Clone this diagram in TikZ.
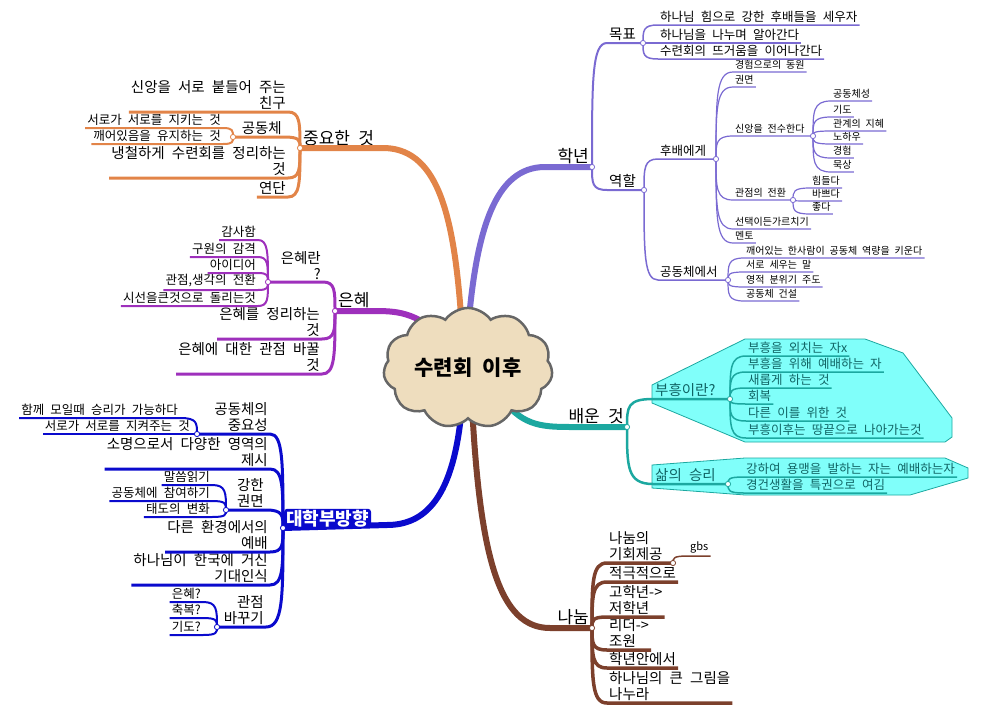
\documentclass[tikz,border=0pt]{standalone}
\usepackage{fontspec}
\setmainfont{Noto Sans CJK KR}[WordSpace=2.2]
\usetikzlibrary{calc,shapes.symbols}

\definecolor{hakc}{RGB}{122,106,210}
\definecolor{orac}{RGB}{226,132,72}
\definecolor{eunc}{RGB}{158,48,188}
\definecolor{daec}{RGB}{10,10,205}
\definecolor{baec}{RGB}{28,168,160}
\definecolor{cyanf}{RGB}{128,255,250}
\definecolor{teald}{RGB}{16,100,100}
\definecolor{brnc}{RGB}{124,64,44}
\definecolor{cloudf}{RGB}{238,221,190}

\tikzset{
  elbow/.style={to path={let \p1=(\tikztostart), \p2=(\tikztotarget) in
    .. controls ($(\p1)!0.7!(\x1,\y2)$) and (\x1,\y2) .. (\p2)}},
  trunk/.style={line width=6pt},
  fA/.style={font=\fontsize{17}{19}\selectfont},
  fB/.style={font=\fontsize{14.5}{16}\selectfont},
  fC/.style={font=\fontsize{12.5}{14}\selectfont},
  fD/.style={font=\fontsize{10}{11}\selectfont},
  lr/.style={anchor=south west, inner xsep=2pt, inner ysep=2.5pt, align=left},
  ll/.style={anchor=south east, inner xsep=2pt, inner ysep=2.5pt, align=right},
  knot/.style={draw, fill=white, line width=0.8pt},
}

\begin{document}
\begin{tikzpicture}[x=1pt,y=-1pt]
\useasboundingbox (0,0) rectangle (999,715);

% boundaries
\filldraw[fill=cyanf,draw=baec,line width=0.8pt] (652,385) -- (745,339) -- (865,339) -- (903,353) -- (952,418) -- (952,437) -- (945,442) -- (745,442) -- (652,403) -- cycle;
\filldraw[fill=cyanf,draw=baec,line width=0.8pt] (652,465) -- (745,458) -- (945,458) -- (968,468) -- (968,478) -- (910,495) -- (745,495) -- (652,488) -- cycle;

\coordinate (hakS) at (468,330);
\coordinate (jungS) at (462,330);
\coordinate (eunS) at (450,345);
\coordinate (daeS) at (462,405);
\coordinate (naS) at (472,405);
\coordinate (baeS) at (500,395);

\coordinate (hakJ) at (592,167);
\coordinate (mokJ) at (643,43);
\coordinate (yeokJ) at (644,190);
\coordinate (hubJ) at (716,159);
\coordinate (sinJ) at (813,136);
\coordinate (gwanJ) at (793,200);
\coordinate (gongJ) at (728,280);
\coordinate (baeJ) at (627,427);
\coordinate (buJ) at (730,399);
\coordinate (salJ) at (728,484);
\coordinate (naJ) at (592,628);
\coordinate (n1J) at (673,563);
\coordinate (jungJ) at (300,148);
\coordinate (kongJ) at (233,137);
\coordinate (eunJ) at (335,311);
\coordinate (eJ) at (268,282);
\coordinate (daeJ) at (283,528);
\coordinate (d1J) at (197,434);
\coordinate (d3J) at (226,510);
\coordinate (d6J) at (217,627);

% 학년
\node[ll,fA] (hak) at (591,167) {학년};
\node[lr,fB] (mok) at (607,43) {목표};
\node[lr,fB] (yeok) at (607,190) {역할};
\node[lr,fC] (m1) at (658,25) {하나님 힘으로 강한 후배들을 세우자};
\node[lr,fC] (m2) at (658,43) {하나님을 나누며 알아간다};
\node[lr,fC] (m3) at (658,59) {수련회의 뜨거움을 이어나간다};
\node[lr,fC] (hub) at (658,159) {후배에게};
\node[lr,fC] (gong) at (658,280) {공동체에서};
\node[lr,fD] (h1) at (733,72) {경험으로의 동원};
\node[lr,fD] (h2) at (733,87) {권면};
\node[lr,fD] (h3) at (733,136) {신앙을 전수한다};
\node[lr,fD] (h4) at (733,200) {관점의 전환};
\node[lr,fD] (h5) at (733,229) {선택이든가르치기};
\node[lr,fD] (h6) at (733,243) {멘토};
\node[lr,fD] (s1) at (831,101) {공동체성};
\node[lr,fD] (s2) at (831,117) {기도};
\node[lr,fD] (s3) at (831,131) {관계의 지혜};
\node[lr,fD] (s4) at (831,144) {노하우};
\node[lr,fD] (s5) at (831,158) {경험};
\node[lr,fD] (s6) at (831,172) {묵상};
\node[lr,fD] (g1) at (810,188) {힘들다};
\node[lr,fD] (g2) at (810,201) {바쁘다};
\node[lr,fD] (g3) at (810,214) {좋다};
\node[lr,fD] (c1) at (744,258) {깨어있는 한사람이 공동체 역량을 키운다};
\node[lr,fD] (c2) at (744,272) {서로 세우는 말};
\node[lr,fD] (c3) at (744,287) {영적 분위기 주도};
\node[lr,fD] (c4) at (744,301) {공동체 건설};

% 배운 것
\node[ll,fA] (bae) at (626,427) {배운 것};
\node[lr,fB,text=teald] (bu) at (653,399) {부흥이란?};
\node[lr,fB,text=teald] (sal) at (653,484) {삶의 승리};
\node[lr,fC,text=teald] (b1) at (746,356) {부흥을 외치는 자x};
\node[lr,fC,text=teald] (b2) at (746,372) {부흥을 위해 예배하는 자};
\node[lr,fC,text=teald] (b3) at (746,388) {새롭게 하는 것};
\node[lr,fC,text=teald] (b4) at (746,404) {회복};
\node[lr,fC,text=teald] (b5) at (746,421) {다른 이를 위한 것};
\node[lr,fC,text=teald] (b6) at (746,438) {부흥이후는 땅끝으로 나아가는것};
\node[lr,fC,text=teald] (v1) at (744,477) {강하여 용맹을 발하는 자는 예배하는자};
\node[lr,fC,text=teald] (v2) at (744,493) {경건생활을 특권으로 여김};

% 나눔
\node[ll,fA] (na) at (591,628) {나눔};
\node[lr,fB] (n1) at (607,563) {나눔의\\기회제공};
\node[lr,font=\fontsize{11}{12}\selectfont] (gbs) at (688,556) {gbs};
\node[lr,fB] (n2) at (607,582) {적극적으로};
\node[lr,fB] (n3) at (607,617) {고학년->\\저학년};
\node[lr,fB] (n4) at (607,650) {리더->\\조원};
\node[lr,fB] (n5) at (607,668) {학년안에서};
\node[lr,fB] (n6) at (607,703) {하나님의 큰 그림을\\나누라};

% 중요한 것
\node[lr,fA] (jung) at (301,148) {중요한 것};
\node[ll,fB] (o1) at (288,112) {신앙을 서로 붙들어 주는\\친구};
\node[ll,fB] (o2) at (284,137) {공동체};
\node[ll,fC] (o21) at (223,128) {서로가 서로를 지키는 것};
\node[ll,fC] (o22) at (223,144) {깨어있음을 유지하는 것};
\node[ll,fB] (o3) at (288,178) {냉철하게 수련회를 정리하는\\것};
\node[ll,fB] (o4) at (288,197) {연단};

% 은혜
\node[lr,fA] (eun) at (336,311) {은혜};
\node[ll,fB] (e1) at (323,282) {은혜란\\?};
\node[ll,fC] (e11) at (258,240) {감사함};
\node[ll,fC] (e12) at (258,257) {구원의 감격};
\node[ll,fC] (e13) at (258,273) {아이디어};
\node[ll,fC] (e14) at (258,290) {관점,생각의 전환};
\node[ll,fC] (e15) at (258,306) {시선을큰것으로 돌리는것};
\node[ll,fB] (e2) at (322,339) {은혜를 정리하는\\것};
\node[ll,fB] (e3) at (322,374) {은혜에 대한 관점 바꿀\\것};

% 대학부방향
\node[ll,fB] (d1) at (270,434) {공동체의\\중요성};
\node[ll,fC] (d11) at (180,418) {함께 모일때 승리가 가능하다};
\node[ll,fC] (d12) at (192,434) {서로가 서로를 지켜주는 것};
\node[ll,fB] (d2) at (270,469) {소명으로서 다양한 영역의\\제시};
\node[ll,fB] (d3) at (266,510) {강한\\권면};
\node[ll,fC] (d31) at (212,485) {말씀읽기};
\node[ll,fC] (d32) at (212,501) {공동체에 참여하기};
\node[ll,fC] (d33) at (212,517) {태도의 변화};
\node[ll,fB] (d4) at (270,552) {다른 환경에서의\\예배};
\node[ll,fB] (d5) at (270,585) {하나님이 한국에 거신\\기대인식};
\node[ll,fB] (d6) at (266,627) {관점\\바꾸기};
\node[ll,fC] (d61) at (203,602) {은혜?};
\node[ll,fC] (d62) at (203,618) {축복?};
\node[ll,fC] (d63) at (203,635) {기도?};

% 학년 lines
\draw[hakc,trunk] (hakS) .. controls (476,230) and (495,167) .. (545,167) -- (hakJ);
\draw[hakc,line width=2pt] (hakJ) to[elbow] (mok.south west) -- (mokJ);
\draw[hakc,line width=2pt] (hakJ) to[elbow] (yeok.south west) -- (yeokJ);
\foreach \k in {m1,m2,m3}
  \draw[hakc,line width=1.5pt] (mokJ) to[elbow] (\k.south west) -- (\k.south east);
\draw[hakc,line width=1.5pt] (yeokJ) to[elbow] (hub.south west) -- (hubJ);
\draw[hakc,line width=1.5pt] (yeokJ) to[elbow] (gong.south west) -- (gongJ);
\foreach \k in {h1,h2,h5,h6}
  \draw[hakc,line width=1.2pt] (hubJ) to[elbow] (\k.south west) -- (\k.south east);
\draw[hakc,line width=1.2pt] (hubJ) to[elbow] (h3.south west) -- (sinJ);
\draw[hakc,line width=1.2pt] (hubJ) to[elbow] (h4.south west) -- (gwanJ);
\foreach \k in {s1,s2,s3,s4,s5,s6}
  \draw[hakc,line width=1.2pt] (sinJ) to[elbow] (\k.south west) -- (\k.south east);
\foreach \k in {g1,g2,g3}
  \draw[hakc,line width=1.2pt] (gwanJ) to[elbow] (\k.south west) -- (\k.south east);
\foreach \k in {c1,c2,c3,c4}
  \draw[hakc,line width=1.2pt] (gongJ) to[elbow] (\k.south west) -- (\k.south east);

% 배운 것 lines
\draw[baec,trunk] (baeS) .. controls (520,425) and (540,427) .. (570,427) -- (baeJ);
\draw[baec,line width=2.5pt] (baeJ) to[elbow] (bu.south west) -- (buJ);
\draw[baec,line width=2.5pt] (baeJ) to[elbow] (sal.south west) -- (salJ);
\foreach \k in {b1,b2,b3,b4,b5,b6}
  \draw[baec,line width=1.5pt] (buJ) to[elbow] (\k.south west) -- (\k.south east);
\foreach \k in {v1,v2}
  \draw[baec,line width=1.5pt] (salJ) to[elbow] (\k.south west) -- (\k.south east);

% 나눔 lines
\draw[brnc,trunk] (naS) .. controls (480,560) and (500,628) .. (550,628) -- (naJ);
\draw[brnc,line width=3.5pt] (naJ) to[elbow] (n1.south west) -- (n1J);
\foreach \k in {n2,n3,n4,n5,n6}
  \draw[brnc,line width=3.5pt] (naJ) to[elbow] (\k.south west) -- (\k.south east);
\draw[brnc,line width=1.5pt] (n1J) to[elbow] (gbs.south west) -- (gbs.south east);

% 중요한 것 lines
\draw[orac,trunk] (jungS) .. controls (455,220) and (440,150) .. (385,148) -- (jungJ);
\foreach \k in {o1,o3,o4}
  \draw[orac,line width=3pt] (jungJ) to[elbow] (\k.south east) -- (\k.south west);
\draw[orac,line width=3pt] (jungJ) to[elbow] (o2.south east) -- (kongJ);
\foreach \k in {o21,o22}
  \draw[orac,line width=2pt] (kongJ) to[elbow] (\k.south east) -- (\k.south west);

% 은혜 lines
\draw[eunc,trunk] (eunS) .. controls (420,313) and (400,311) .. (375,311) -- (eunJ);
\draw[eunc,line width=3pt] (eunJ) to[elbow] (e1.south east) -- (eJ);
\foreach \k in {e2,e3}
  \draw[eunc,line width=3pt] (eunJ) to[elbow] (\k.south east) -- (\k.south west);
\foreach \k in {e11,e12,e13,e14,e15}
  \draw[eunc,line width=2pt] (eJ) to[elbow] (\k.south east) -- (\k.south west);

% 대학부방향 lines
\draw[daec,trunk] (daeS) .. controls (455,490) and (430,525) .. (387,525) -- (daeJ);
\draw[daec,line width=3pt] (daeJ) to[elbow] (d1.south east) -- (d1J);
\draw[daec,line width=3pt] (daeJ) to[elbow] (d3.south east) -- (d3J);
\draw[daec,line width=3pt] (daeJ) to[elbow] (d6.south east) -- (d6J);
\foreach \k in {d2,d4,d5}
  \draw[daec,line width=3pt] (daeJ) to[elbow] (\k.south east) -- (\k.south west);
\foreach \k in {d11,d12}
  \draw[daec,line width=2pt] (d1J) to[elbow] (\k.south east) -- (\k.south west);
\foreach \k in {d31,d32,d33}
  \draw[daec,line width=2pt] (d3J) to[elbow] (\k.south east) -- (\k.south west);
\foreach \k in {d61,d62,d63}
  \draw[daec,line width=2pt] (d6J) to[elbow] (\k.south east) -- (\k.south west);

% centre and box
\node[cloud, cloud puffs=11, cloud puff arc=110, aspect=1.6, draw=black!60, line width=2.5pt,
  fill=cloudf, minimum width=160, minimum height=100,
  font=\bfseries\fontsize{21}{24}\selectfont] (root) at (468,368) {수련회 이후};
\node[anchor=south west, fill=daec, text=white, rounded corners=3pt, inner xsep=2pt, inner ysep=1pt,
  font=\bfseries\fontsize{18}{20}\selectfont] (dae) at (284,528) {대학부방향};

\foreach \j/\c in {hakJ/hakc,mokJ/hakc,yeokJ/hakc,hubJ/hakc,sinJ/hakc,gwanJ/hakc,gongJ/hakc,
  baeJ/baec,buJ/baec,salJ/baec,naJ/brnc,n1J/brnc,jungJ/orac,kongJ/orac,
  eunJ/eunc,eJ/eunc,daeJ/daec,d1J/daec,d3J/daec,d6J/daec}
  \filldraw[knot,draw=\c] (\j) circle[radius=2.6pt];
\end{tikzpicture}
\end{document}
